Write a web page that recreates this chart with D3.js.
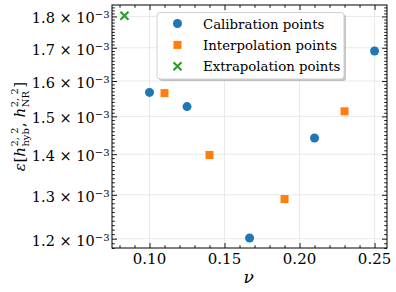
<!DOCTYPE html>
<html>
<head>
<meta charset="utf-8">
<script src="https://cdn.jsdelivr.net/npm/d3@7"></script>
<style>
    body { margin: 0; background: #fff; }
    svg { display: block; }
    .grid line { stroke: #e6e6e6; stroke-width: 0.9; }
</style>
</head>
<body>
<div id="root"></div>
<script>
// data
const nuCal = [0.100, 0.125, 0.1667, 0.210, 0.250];
const errCal = [1.567e-3, 1.527e-3, 1.2015e-3, 1.442e-3, 1.690e-3];
const nuInt = [0.110, 0.140, 0.190, 0.230];
const errInt = [1.565e-3, 1.398e-3, 1.290e-3, 1.514e-3];
const nuExt = [0.0833];
const errExt = [1.802e-3];

const xTicks = [0.10, 0.15, 0.20, 0.25];
const yTicks = [1.2e-3, 1.3e-3, 1.4e-3, 1.5e-3, 1.6e-3, 1.7e-3, 1.8e-3];
const legendLabels = ['Calibration points', 'Interpolation points', 'Extrapolation points'];

const WIDTH = 396, HEIGHT = 292;
const margin = {left: 112, right: 9, top: 5, bottom: 44};
const w = WIDTH - margin.left - margin.right;
const h = HEIGHT - margin.top - margin.bottom;
const FONT = 'DejaVu Serif';

const x = d3.scaleLinear().domain([0.075, 0.2583]).range([0, w]);
const y = d3.scaleLog().domain([1.1798e-3, 1.838e-3]).range([h, 0]);

const colors = ['#1f77b4', '#ff7f0e', '#2ca02c'];
const crossPath = 'M-4,-4L4,4M-4,4L4,-4';

const svg = d3.select('#root').append('svg')
    .attr('width', WIDTH)
    .attr('height', HEIGHT)
    .style('font-family', FONT);

const g = svg.append('g')
    .attr('transform', `translate(${margin.left}, ${margin.top})`);

// grid
g.append('g').attr('class', 'grid')
    .selectAll('line').data(xTicks).enter().append('line')
    .attr('x1', d => x(d)).attr('x2', d => x(d))
    .attr('y1', 0).attr('y2', h);
g.append('g').attr('class', 'grid')
    .selectAll('line').data(yTicks).enter().append('line')
    .attr('y1', d => y(d)).attr('y2', d => y(d))
    .attr('x1', 0).attr('x2', w);

// minor ticks
const xMinor = d3.range(8, 26).map(v => v / 100)
    .filter(v => !xTicks.some(t => Math.abs(t - v) < 1e-9));
const yMinor = d3.range(118, 184).filter(v => v % 10 !== 0).map(v => v / 1e5)
    .filter(v => v >= y.domain()[0] && v <= y.domain()[1]);

function tickSet(axisFn, scale, values, len, transform) {
    const ax = g.append('g')
        .attr('transform', transform)
        .call(axisFn(scale).tickValues(values).tickSizeInner(-len).tickSizeOuter(0).tickFormat(''));
    ax.select('.domain').remove();
    ax.selectAll('line').attr('stroke', '#000').attr('stroke-width', 0.9);
}

tickSet(d3.axisBottom, x, xTicks, 5, `translate(0, ${h})`);
tickSet(d3.axisBottom, x, xMinor, 2.8, `translate(0, ${h})`);
tickSet(d3.axisTop, x, xTicks, 5, 'translate(0, 0)');
tickSet(d3.axisTop, x, xMinor, 2.8, 'translate(0, 0)');
tickSet(d3.axisLeft, y, yTicks, 5, 'translate(0, 0)');
tickSet(d3.axisLeft, y, yMinor, 2.8, 'translate(0, 0)');
tickSet(d3.axisRight, y, yTicks, 5, `translate(${w}, 0)`);
tickSet(d3.axisRight, y, yMinor, 2.8, `translate(${w}, 0)`);

// frame
g.append('rect')
    .attr('width', w).attr('height', h)
    .attr('fill', 'none').attr('stroke', '#000').attr('stroke-width', 1);

// tick labels
g.selectAll('.xlabel').data(xTicks).enter().append('text')
    .attr('x', d => x(d))
    .attr('y', h + 15.5)
    .attr('text-anchor', 'middle')
    .style('font-family', FONT)
    .style('font-size', '15px')
    .text(d => d.toFixed(2));

const ylab = g.selectAll('.ylabel').data(yTicks).enter().append('text')
    .attr('x', -2.5)
    .attr('y', d => y(d) + 7)
    .attr('text-anchor', 'end')
    .style('font-family', FONT)
    .style('font-size', '14.5px');
ylab.append('tspan').text(d => `${(d * 1e3).toFixed(1)} \u00d7 10`);
ylab.append('tspan').attr('dy', '-0.5em').style('font-size', '10px').text('\u22123');

// axis titles
svg.append('text')
    .attr('x', margin.left + x(0.1667) - 1)
    .attr('y', 283)
    .attr('text-anchor', 'middle')
    .style('font-family', FONT)
    .style('font-size', '17px')
    .style('font-style', 'italic')
    .text('\u03bd');

const yTitle = svg.append('g');
const parts = [
    {t: '\u03b5', italic: true},
    {t: '['},
    {t: 'h', italic: true},
    {sup: '2, 2', sub: 'hyb'},
    {t: ', '},
    {t: 'h', italic: true},
    {sup: '2, 2', sub: 'NR'},
    {t: ']'}
];
let cursor = 0;
parts.forEach(p => {
    if (p.t !== undefined) {
        const t = yTitle.append('text')
            .attr('x', cursor).attr('y', 0)
            .style('font-family', FONT)
            .style('font-size', '15px')
            .style('font-style', p.italic ? 'italic' : 'normal')
            .style('white-space', 'pre')
            .text(p.t);
        cursor += t.node().getComputedTextLength() + (p.italic ? 0.5 : 0);
    } else {
        const s1 = yTitle.append('text')
            .attr('x', cursor).attr('y', -7)
            .style('font-family', FONT)
            .style('font-size', '10px')
            .style('white-space', 'pre')
            .text(p.sup);
        const s2 = yTitle.append('text')
            .attr('x', cursor).attr('y', 4)
            .style('font-family', FONT)
            .style('font-size', '10px')
            .text(p.sub);
        cursor += Math.max(s1.node().getComputedTextLength(), s2.node().getComputedTextLength()) + 0.5;
    }
});
yTitle.attr('transform', `translate(25, ${margin.top + h / 2}) rotate(-90) translate(${-cursor / 2}, 0)`);

// points
g.selectAll('.cal').data(nuCal).enter().append('circle')
    .attr('cx', d => x(d))
    .attr('cy', (d, i) => y(errCal[i]))
    .attr('r', 4.5)
    .attr('fill', colors[0]);

g.selectAll('.int').data(nuInt).enter().append('rect')
    .attr('x', d => x(d) - 4)
    .attr('y', (d, i) => y(errInt[i]) - 4)
    .attr('width', 8).attr('height', 8)
    .attr('fill', colors[1]);

g.selectAll('.ext').data(nuExt).enter().append('path')
    .attr('transform', (d, i) => `translate(${x(d)}, ${y(errExt[i])})`)
    .attr('d', crossPath)
    .attr('stroke', colors[2])
    .attr('stroke-width', 2.2)
    .attr('fill', 'none');

// legend
const lx = 157, ly = 12.5, lw = 187, lh = 66.5;
svg.append('rect')
    .attr('x', lx + 2).attr('y', ly + 2)
    .attr('width', lw).attr('height', lh)
    .attr('rx', 3)
    .attr('fill', '#8c8c8c').attr('opacity', 0.5);
svg.append('rect')
    .attr('x', lx).attr('y', ly)
    .attr('width', lw).attr('height', lh)
    .attr('rx', 3)
    .attr('fill', '#fff').attr('stroke', '#d0d0d0').attr('stroke-width', 1);

const legend = svg.selectAll('.legend')
    .data(legendLabels)
    .enter().append('g')
    .attr('class', 'legend')
    .attr('transform', (d, i) => `translate(177.5, ${23.5 + i * 21.4})`);

legend.filter((d, i) => i === 0).append('circle').attr('r', 4.5).attr('fill', colors[0]);
legend.filter((d, i) => i === 1).append('rect')
    .attr('x', -4).attr('y', -4).attr('width', 8).attr('height', 8).attr('fill', colors[1]);
legend.filter((d, i) => i === 2).append('path')
    .attr('d', crossPath)
    .attr('stroke', colors[2]).attr('stroke-width', 2.2).attr('fill', 'none');

legend.append('text')
    .attr('x', 25.5)
    .attr('y', 5)
    .style('font-family', FONT)
    .style('font-size', '13.3px')
    .text(d => d);
</script>
</body>
</html>
